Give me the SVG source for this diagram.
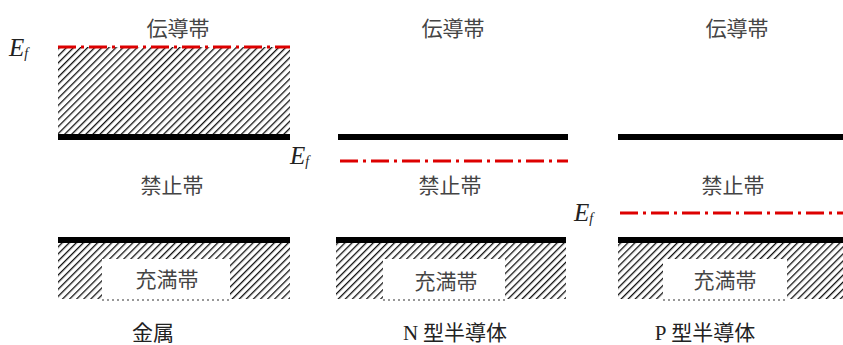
<svg xmlns="http://www.w3.org/2000/svg" width="843" height="345" viewBox="0 0 843 345">
<style>
.lbl{font-family:"Noto Sans CJK JP","Noto Sans",sans-serif;font-size:21px;fill:#444;text-anchor:middle}
.cap{font-family:"Noto Sans CJK JP","Liberation Serif",serif;font-size:21px;fill:#222;text-anchor:middle}
.ef{font-family:"Liberation Serif",serif;font-style:italic;font-size:25px;fill:#222}
.band{stroke:#000;stroke-width:6}
.fermi{stroke:#d00;stroke-width:3;stroke-dasharray:18 5 3 5;fill:none}
.dot{stroke:#333;stroke-width:1;stroke-dasharray:2 3}
</style>
<defs>
<pattern id="hatch" width="5" height="5" patternUnits="userSpaceOnUse" patternTransform="rotate(45)">
<rect width="5" height="5" fill="#fff"/>
<line x1="0" y1="0" x2="0" y2="5" stroke="#111" stroke-width="2.6"/>
</pattern>
</defs>
<rect width="843" height="345" fill="#fff"/>
<g id="metal">
<rect x="58" y="47" width="232" height="89" fill="url(#hatch)"/>
<line class="fermi" x1="58" y1="47" x2="290" y2="47"/>
<line class="band" x1="58" y1="137" x2="290" y2="137"/>
<text class="lbl" x="178" y="36">伝導帯</text>
<text class="ef" x="9" y="56">E<tspan font-size="14" dy="2">f</tspan></text>
<text class="lbl" x="172" y="193">禁止帯</text>
<line class="band" x1="58" y1="240" x2="290" y2="240"/>
<rect x="58" y="243" width="232" height="56" fill="url(#hatch)"/>
<rect x="102" y="259" width="128" height="41" fill="#fff"/>
<line class="dot" x1="102" y1="300" x2="230" y2="300"/>
<text class="lbl" x="167" y="287">充満帯</text>
<text class="cap" x="153" y="340">金属</text>
</g>
<g id="ntype">
<text class="lbl" x="453" y="36">伝導帯</text>
<line class="band" x1="338" y1="137" x2="568" y2="137"/>
<line class="fermi" x1="340" y1="161" x2="568" y2="161"/>
<text class="ef" x="290" y="164">E<tspan font-size="14" dy="2">f</tspan></text>
<text class="lbl" x="450" y="193">禁止帯</text>
<line class="band" x1="336" y1="240" x2="566" y2="240"/>
<rect x="336" y="243" width="230" height="56" fill="url(#hatch)"/>
<rect x="383" y="259" width="122" height="41" fill="#fff"/>
<line class="dot" x1="383" y1="300" x2="505" y2="300"/>
<text class="lbl" x="446" y="289">充満帯</text>
<text class="cap" x="455" y="340"><tspan font-family="Liberation Serif">N</tspan> 型半導体</text>
</g>
<g id="ptype">
<text class="lbl" x="737" y="36">伝導帯</text>
<line class="band" x1="618" y1="137" x2="843" y2="137"/>
<text class="lbl" x="733" y="193">禁止帯</text>
<line class="fermi" x1="620" y1="213" x2="843" y2="213"/>
<text class="ef" x="574" y="221">E<tspan font-size="14" dy="2">f</tspan></text>
<line class="band" x1="618" y1="240" x2="843" y2="240"/>
<rect x="618" y="243" width="225" height="56" fill="url(#hatch)"/>
<rect x="663" y="259" width="124" height="41" fill="#fff"/>
<line class="dot" x1="663" y1="300" x2="787" y2="300"/>
<text class="lbl" x="725" y="288">充満帯</text>
<text class="cap" x="705" y="340"><tspan font-family="Liberation Serif">P</tspan> 型半導体</text>
</g>
<g id="connectors"/>
</svg>
